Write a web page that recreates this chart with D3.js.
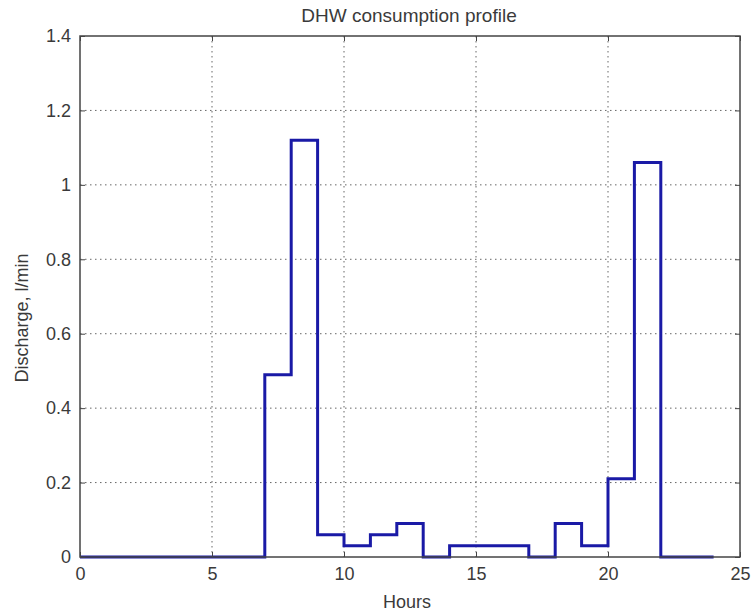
<!DOCTYPE html>
<html>
<head>
<meta charset="utf-8">
<script src="https://cdn.jsdelivr.net/npm/d3@7"></script>
<style>
  body { margin: 0; background: #fff; }
  text { font-family: "Liberation Sans", Arial, sans-serif; fill: #3a3a3a; }
</style>
</head>
<body>
<script>
// step profile: value holds from each hour until the next
let hours = [0, 7, 8, 9, 10, 11, 12, 13, 14, 17, 18, 19, 20, 21, 22, 24]
let flow = [0, 0.49, 1.12, 0.06, 0.03, 0.06, 0.09, 0, 0.03, 0, 0.09, 0.03, 0.21, 1.06, 0, 0]
let xTicks = [0, 5, 10, 15, 20, 25]
let yTicks = [0, 0.2, 0.4, 0.6, 0.8, 1, 1.2, 1.4]

let width = 752
let height = 615
let margin = { top: 36, right: 12, bottom: 58, left: 80 }
let w = width - margin.left - margin.right
let h = height - margin.top - margin.bottom

const svg = d3.select("body")
  .append("svg")
  .attr("width", width)
  .attr("height", height)

const g = svg.append("g")
  .attr("transform", `translate(${margin.left},${margin.top})`)

var x = d3.scaleLinear().domain([0, 25]).range([0, w])
var y = d3.scaleLinear().domain([0, 1.4]).range([h, 0])

// grid
g.append("g").selectAll("line")
  .data(xTicks.slice(1, -1))
  .join("line")
  .attr("x1", d => x(d)).attr("x2", d => x(d))
  .attr("y1", 0).attr("y2", h)
  .attr("stroke", "#666").attr("stroke-width", 1)
  .attr("stroke-dasharray", "1.5,3.5")

g.append("g").selectAll("line")
  .data(yTicks.slice(1, -1))
  .join("line")
  .attr("x1", 0).attr("x2", w)
  .attr("y1", d => y(d)).attr("y2", d => y(d))
  .attr("stroke", "#666").attr("stroke-width", 1)
  .attr("stroke-dasharray", "1.5,3.5")

// data line
let pts = hours.map((d, i) => [d, flow[i]])
const line = d3.line()
  .x(d => x(d[0]))
  .y(d => y(d[1]))
  .curve(d3.curveStepAfter)

g.append("path")
  .datum(pts)
  .attr("d", line)
  .attr("fill", "none")
  .attr("stroke", "#1a1aa6")
  .attr("stroke-width", 3)

// axes, ticks inside
const tickLen = 5
let axStyle = sel => {
  sel.select(".domain").remove()
  sel.selectAll("line").attr("stroke", "#444")
}

g.append("g")
  .attr("transform", `translate(0,${h})`)
  .call(d3.axisBottom(x).tickValues(xTicks).tickSize(-tickLen).tickPadding(10))
  .call(axStyle)
  .selectAll("text").style("font-size", "18px")

g.append("g")
  .call(d3.axisTop(x).tickValues(xTicks).tickSize(-tickLen).tickFormat(""))
  .call(axStyle)

g.append("g")
  .call(d3.axisLeft(y).tickValues(yTicks).tickSize(-tickLen).tickPadding(9).tickFormat(d3.format("~g")))
  .call(axStyle)
  .selectAll("text").style("font-size", "18px")

g.append("g")
  .attr("transform", `translate(${w},0)`)
  .call(d3.axisRight(y).tickValues(yTicks).tickSize(-tickLen).tickFormat(""))
  .call(axStyle)

// box
g.append("rect")
  .attr("width", w).attr("height", h)
  .attr("fill", "none")
  .attr("stroke", "#444")
  .attr("stroke-width", 1.5)

// titles
svg.append("text")
  .attr("x", 409).attr("y", 22)
  .attr("text-anchor", "middle")
  .style("font-size", "19px")
  .text("DHW consumption profile")

svg.append("text")
  .attr("x", 407).attr("y", 608)
  .attr("text-anchor", "middle")
  .style("font-size", "18px")
  .text("Hours")

svg.append("text")
  .attr("transform", `translate(28,318) rotate(-90)`)
  .attr("text-anchor", "middle")
  .style("font-size", "18px")
  .text("Discharge, l/min")
</script>
</body>
</html>
